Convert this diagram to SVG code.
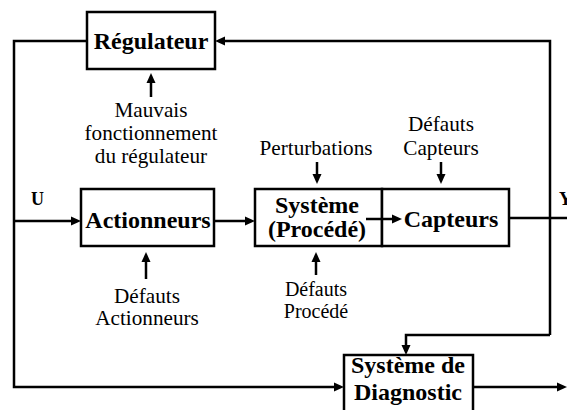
<svg xmlns="http://www.w3.org/2000/svg" width="567" height="410" viewBox="0 0 567 410">
<style>
.box{fill:#fff;stroke:#000;stroke-width:2.5}
.ln{fill:none;stroke:#000;stroke-width:2.5}
.ar{marker-end:url(#ah)}
.b{font-family:"Liberation Serif","Times New Roman",serif;font-weight:bold;font-size:24px;text-anchor:middle;fill:#000}
.lbl{font-family:"Liberation Serif","Times New Roman",serif;font-size:21.2px;text-anchor:middle;fill:#000}
.sm{font-size:20px}
.s{font-family:"Liberation Serif","Times New Roman",serif;font-weight:bold;font-size:18px;fill:#000}
</style>
<defs>
<marker id="ah" markerUnits="userSpaceOnUse" markerWidth="10" markerHeight="10" refX="4" refY="4.5" orient="auto" overflow="visible">
<path d="M0,0 L10,4.5 L0,9 z" fill="#000"/>
</marker>
</defs>
<rect width="567" height="410" fill="#fff"/>
<g id="connectors">
<polyline class="ln ar" points="87,41 14,41 14,387 338,387"/>
<polyline class="ln ar" points="550,335 550,41 221,41"/>
<polyline class="ln ar" points="550,335 406,335 406,349"/>
<line class="ln" x1="509" y1="218" x2="567" y2="218"/>
<line class="ln ar" x1="14" y1="221" x2="75" y2="221"/>
<line class="ln ar" x1="214" y1="221" x2="249" y2="221"/>
<line class="ln ar" x1="473" y1="387" x2="561" y2="387"/>
<line class="ln ar" x1="151" y1="97" x2="151" y2="79"/>
<line class="ln ar" x1="317" y1="162" x2="317" y2="178"/>
<line class="ln ar" x1="441" y1="162" x2="441" y2="178"/>
<line class="ln ar" x1="146" y1="279" x2="146" y2="258"/>
<line class="ln ar" x1="316" y1="275" x2="316" y2="258"/>
</g>
<g id="regulateur">
<rect class="box" x="87" y="12" width="128" height="57"/>
<text class="b" x="151" y="49">Régulateur</text>
</g>
<g id="actionneurs">
<rect class="box" x="81" y="189" width="133" height="57"/>
<text class="b" x="148" y="228">Actionneurs</text>
</g>
<g id="systeme">
<rect class="box" x="255" y="189" width="127" height="57"/>
<text class="b" x="317" y="213">Système</text>
<text class="b" x="317" y="237">(Procédé)</text>
</g>
<g id="capteurs">
<rect class="box" x="382" y="189" width="127" height="57"/>
<text class="b" x="451" y="227">Capteurs</text>
</g>
<g id="connector-systeme-capteurs">
<line class="ln ar" x1="366" y1="219" x2="396" y2="219"/>
</g>
<g id="diagnostic">
<rect class="box" x="344" y="355" width="129" height="70"/>
<text class="b" x="408" y="373">Système de</text>
<text class="b" x="408" y="400">Diagnostic</text>
</g>
<g id="labels">
<text class="s" x="31" y="205">U</text>
<text class="s" x="559" y="205">Y</text>
<text class="lbl" x="151" y="117">Mauvais</text>
<text class="lbl" x="151" y="140">fonctionnement</text>
<text class="lbl" x="151" y="163">du régulateur</text>
<text class="lbl" x="316" y="155">Perturbations</text>
<text class="lbl" x="441" y="131">Défauts</text>
<text class="lbl" x="441" y="155">Capteurs</text>
<text class="lbl" x="147" y="303">Défauts</text>
<text class="lbl" x="147" y="325">Actionneurs</text>
<text class="lbl sm" x="316" y="296">Défauts</text>
<text class="lbl sm" x="316" y="318">Procédé</text>
</g>
</svg>
